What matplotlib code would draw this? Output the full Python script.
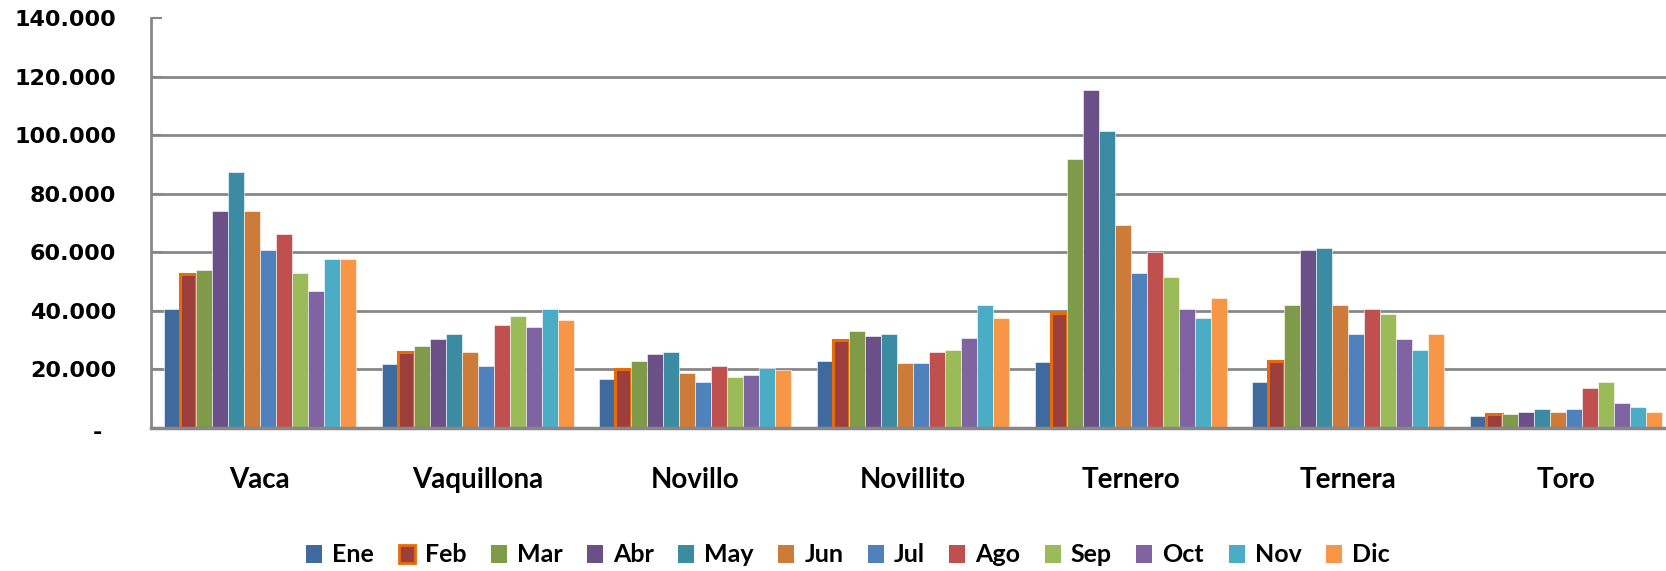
import numpy as np
import matplotlib.pyplot as plt
import matplotlib.transforms as mtransforms
from matplotlib.patches import Patch

plt.rcParams['font.family'] = ['Lato', 'DejaVu Sans']

categories = ["Vaca", "Vaquillona", "Novillo", "Novillito", "Ternero", "Ternera", "Toro"]
months = ["Ene", "Feb", "Mar", "Abr", "May", "Jun", "Jul", "Ago", "Sep", "Oct", "Nov", "Dic"]

# head count per month, one list per category
vaca = [40500, 52600, 53800, 74100, 87300, 74100, 60900, 66300, 53000, 46800, 57700, 57700]
vaquillona = [22000, 26000, 28100, 30500, 32100, 25800, 21100, 35300, 38200, 34400, 40500, 36800]
novillo = [16600, 20000, 22800, 25200, 26000, 18900, 15800, 21300, 17500, 18200, 20400, 19700]
novillito = [22900, 30100, 33000, 31400, 32100, 22100, 22100, 26000, 26800, 30600, 42100, 37400]
ternero = [22700, 39200, 91900, 115300, 101300, 69400, 53000, 60100, 51400, 40500, 37400, 44500]
ternera = [15700, 22800, 42100, 60900, 61600, 42100, 32000, 40500, 38900, 30500, 26500, 32000]
toro = [4100, 4900, 4800, 5600, 6400, 5600, 6400, 13500, 15700, 8700, 7300, 5600]

values = np.array([vaca, vaquillona, novillo, novillito, ternero, ternera, toro])

colors = ["#3F6A9E", "#9C3F3C", "#7F9A48", "#6A5087", "#3B8BA3", "#CC7B39",
          "#4F81BD", "#C0504D", "#9BBB59", "#8064A2", "#4BACC6", "#F79646"]
feb_edge = "#E46C0A"
grid_col = "#878787"

fig = plt.figure(figsize=(16.66, 5.71), dpi=100)
ax = fig.add_axes([151 / 1666, 1 - 428 / 571, 1524 / 1666, 410 / 571])

x = np.arange(len(categories))
w = 16 / 217.7
for j, m in enumerate(months):
    pos = x + (j - 5.5) * w
    if m == "Feb":
        ax.bar(pos, values[:, j], width=w, color=colors[j], edgecolor=feb_edge,
               linewidth=2.2, zorder=3, clip_on=False)
    else:
        ax.bar(pos, values[:, j], width=w, color=colors[j], edgecolor="#FFFFFF",
               linewidth=0.4, zorder=3)

ax.set_xlim(-0.5, 6.5)
ax.set_ylim(0, 140000)

yt = np.arange(0, 140001, 20000)
ax.set_yticks(yt)
ax.set_yticklabels(["-"] + [f"{v:,.0f}".replace(",", ".") for v in yt[1:]],
                   fontsize=16, fontweight="bold", family="DejaVu Sans")
for v in yt[1:-1]:
    ax.axhline(v, color=grid_col, linewidth=2, zorder=1)
ax.tick_params(axis="y", direction="in", length=8, width=1.5, color=grid_col, pad=25)

# zero label sits a bit further left, like an accounting format
zero = ax.get_yticklabels()[0]
zero.set_transform(zero.get_transform()
                   + mtransforms.ScaledTranslation(-14 / 100, -3 / 100, fig.dpi_scale_trans))

ax.set_xticks(x)
ax.set_xticklabels(categories, fontsize=20, fontweight="bold")
ax.tick_params(axis="x", length=0, pad=28)

for s in ["top", "right"]:
    ax.spines[s].set_visible(False)
ax.spines["left"].set_color(grid_col)
ax.spines["left"].set_linewidth(2)
ax.spines["bottom"].set_color(grid_col)
ax.spines["bottom"].set_linewidth(2.5)
ax.spines["bottom"].set_zorder(4)

handles = []
for j, m in enumerate(months):
    if m == "Feb":
        handles.append(Patch(facecolor=colors[j], edgecolor=feb_edge, linewidth=2, label=m))
    else:
        handles.append(Patch(facecolor=colors[j], edgecolor="none", label=m))
fig.legend(handles=handles, loc="center", bbox_to_anchor=(848 / 1666, 1 - 555 / 571),
           ncol=12, frameon=False, handlelength=0.64, handleheight=0.72,
           handletextpad=0.4, columnspacing=0.98, borderpad=0,
           prop={"size": 18, "weight": "bold"})

fig.savefig("out.png", dpi=100)
